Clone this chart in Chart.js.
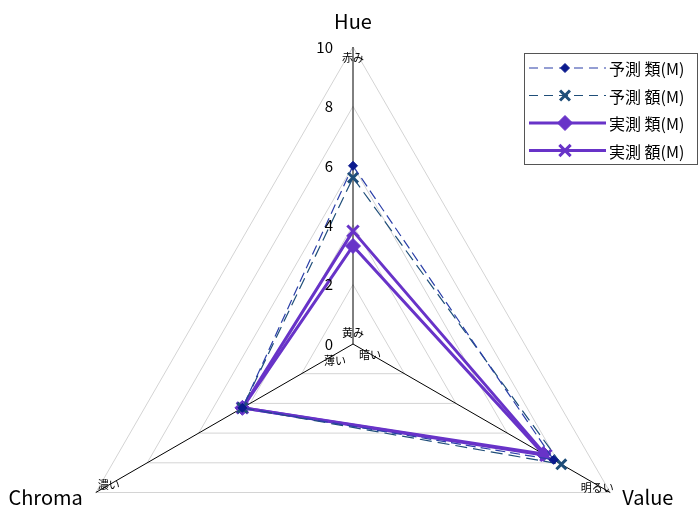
<!DOCTYPE html>
<html>
<head>
<meta charset="utf-8">
<script src="https://cdn.jsdelivr.net/npm/chart.js@4.4.1/dist/chart.umd.min.js"></script>
<style>
  html, body { margin: 0; padding: 0; background: #fff; overflow: hidden; }
  #wrap { width: 698px; height: 514px; overflow: hidden; }
  canvas { display: block; }
</style>
</head>
<body>
<div id="wrap"><canvas id="c" width="698" height="641"></canvas></div>
<script>
// Axes of the colour space, clockwise from the top
const axes = ['Hue', 'Value', 'Chroma'];
// Scale ticks
const tickValues = [0, 2, 4, 6, 8, 10];
// Series names
const seriesNames = ['予測 類(M)', '予測 額(M)', '実測 類(M)', '実測 額(M)'];
// Series values in axis order (Hue, Value, Chroma)
const predType   = [6.0, 7.8, 4.3];
const predAmount = [5.6, 8.1, 4.3];
const measType   = [3.3, 7.4, 4.3];
const measAmount = [3.8, 7.5, 4.3];
// Descriptive words at the ends of each axis
const axisEndWords = { Hue: ['黄み', '赤み'], Value: ['暗い', '明るい'], Chroma: ['薄い', '濃い'] };

const FONT = '"Noto Sans CJK JP", "Noto Sans", sans-serif';
const PURPLE = '#6833C8';

const styles = [
  { line: '#2B3FA8', dash: [10, 5], width: 1.2, marker: 'rectRot', mColor: '#0B1A8E', r: 4.5, mWidth: 1 },
  { line: '#1F4E79', dash: [12, 6], width: 1.2, marker: 'crossRot', mColor: '#1F4E79', r: 7, mWidth: 3 },
  { line: PURPLE, dash: [], width: 3, marker: 'rectRot', mColor: PURPLE, r: 7.5, mWidth: 1 },
  { line: PURPLE, dash: [], width: 3, marker: 'crossRot', mColor: PURPLE, r: 8, mWidth: 3 }
];
const values = [predType, predAmount, measType, measAmount];

const datasets = values.map((v, i) => ({
  label: seriesNames[i],
  data: v,
  borderColor: styles[i].line,
  borderWidth: styles[i].width,
  borderDash: styles[i].dash,
  backgroundColor: styles[i].mColor,
  fill: false,
  tension: 0,
  pointStyle: styles[i].marker,
  pointRadius: styles[i].r,
  pointBorderColor: styles[i].mColor,
  pointBackgroundColor: styles[i].mColor,
  pointBorderWidth: styles[i].mWidth
}));

function drawMarker(ctx, style, color, r, lw, x, y) {
  ctx.save();
  ctx.setLineDash([]);
  ctx.strokeStyle = color;
  ctx.fillStyle = color;
  ctx.lineWidth = lw;
  ctx.beginPath();
  if (style === 'rectRot') {
    ctx.moveTo(x, y - r);
    ctx.lineTo(x + r, y);
    ctx.lineTo(x, y + r);
    ctx.lineTo(x - r, y);
    ctx.closePath();
    ctx.fill();
    ctx.stroke();
  } else {
    const d = r * Math.SQRT1_2;
    ctx.moveTo(x - d, y - d); ctx.lineTo(x + d, y + d);
    ctx.moveTo(x + d, y - d); ctx.lineTo(x - d, y + d);
    ctx.stroke();
  }
  ctx.restore();
}

const decorations = {
  id: 'decorations',
  afterDraw(chart) {
    const ctx = chart.ctx;
    const s = chart.scales.r;
    const cx = s.xCenter, cy = s.yCenter;
    ctx.save();
    ctx.fillStyle = '#000';

    // tick numbers to the left of the vertical axis
    ctx.font = '15px ' + FONT;
    ctx.textAlign = 'right';
    ctx.textBaseline = 'middle';
    tickValues.forEach(v => {
      const d = s.getDistanceFromCenterForValue(v);
      ctx.fillText(String(v), cx - 20, cy - d);
    });

    // axis titles
    const outer = s.getDistanceFromCenterForValue(10);
    const pHue = s.getPointPosition(0, outer);
    const pVal = s.getPointPosition(1, outer);
    const pChr = s.getPointPosition(2, outer);
    ctx.font = '20px ' + FONT;
    ctx.textAlign = 'center';
    ctx.fillText(axes[0], pHue.x, pHue.y - 26);
    ctx.textAlign = 'left';
    ctx.fillText(axes[1], pVal.x + 12, pVal.y + 5);
    ctx.textAlign = 'right';
    ctx.fillText(axes[2], pChr.x - 13, pChr.y + 5);

    // words at both ends of each axis
    ctx.font = '11px ' + FONT;
    ctx.textAlign = 'center';
    ctx.fillText(axisEndWords.Hue[1], pHue.x, pHue.y + 11);
    ctx.fillText(axisEndWords.Hue[0], cx, cy - 11);
    ctx.fillText(axisEndWords.Value[0], cx + 17, cy + 11);
    ctx.fillText(axisEndWords.Chroma[0], cx - 18, cy + 17);
    ctx.fillText(axisEndWords.Value[1], pVal.x - 13, pVal.y - 5);
    ctx.fillText(axisEndWords.Chroma[1], pChr.x + 13, pChr.y - 8);

    // legend
    const lx = 524.5, ly = 53.5, lw = 173, lh = 111;
    ctx.strokeStyle = '#555';
    ctx.lineWidth = 1;
    ctx.strokeRect(lx, ly, lw, lh);
    ctx.font = '16px ' + FONT;
    ctx.textAlign = 'left';
    seriesNames.forEach((name, i) => {
      const st = styles[i];
      const y = 68 + i * 27.5;
      ctx.save();
      ctx.strokeStyle = st.line;
      ctx.lineWidth = st.width;
      ctx.setLineDash(st.dash.length ? [9, 6] : []);
      ctx.beginPath();
      ctx.moveTo(529, y);
      ctx.lineTo(606, y);
      ctx.stroke();
      ctx.restore();
      drawMarker(ctx, st.marker, st.mColor, st.r, st.mWidth, 565, y);
      ctx.fillStyle = '#000';
      ctx.fillText(name, 609, y + 1);
    });
    ctx.restore();
  }
};

new Chart(document.getElementById('c'), {
  type: 'radar',
  data: { labels: axes, datasets },
  options: {
    responsive: false,
    animation: false,
    devicePixelRatio: 1,
    layout: { padding: { left: 8, top: 47, right: 0, bottom: 0 } },
    plugins: { legend: { display: false }, tooltip: { enabled: false } },
    elements: { line: { borderJoinStyle: 'miter' } },
    scales: {
      r: {
        min: 0,
        max: 10,
        beginAtZero: true,
        ticks: { stepSize: 2, display: false },
        grid: { color: '#D4D4D4', lineWidth: 1, circular: false },
        angleLines: { color: '#000', lineWidth: 1 },
        pointLabels: { display: false }
      }
    }
  },
  plugins: [decorations]
});
</script>
</body>
</html>
